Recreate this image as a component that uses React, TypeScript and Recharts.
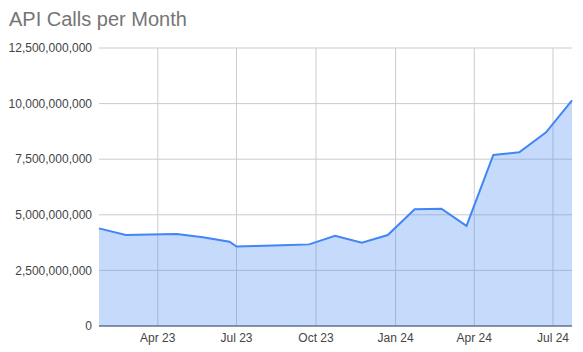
import React from 'react';
import { AreaChart, Area, XAxis, YAxis, CartesianGrid } from 'recharts';

const dates = [
  '2023-01-23', '2023-02-23', '2023-03-23', '2023-04-23', '2023-05-23', '2023-06-23',
  '2023-07-01', '2023-07-23', '2023-08-23', '2023-09-23', '2023-10-23', '2023-11-23',
  '2023-12-23', '2024-01-23', '2024-02-23', '2024-03-23', '2024-04-23', '2024-05-23',
  '2024-06-23', '2024-07-23',
];
const calls = [
  4390000000, 4090000000, 4110000000, 4140000000, 3990000000, 3790000000,
  3570000000, 3600000000, 3630000000, 3670000000, 4060000000, 3750000000,
  4090000000, 5250000000, 5270000000, 4500000000, 7690000000, 7810000000,
  8710000000, 10140000000,
];
const tickDates = ['2023-04-01', '2023-07-01', '2023-10-01', '2024-01-01', '2024-04-01', '2024-07-01'];
const tickLabels = ['Apr 23', 'Jul 23', 'Oct 23', 'Jan 24', 'Apr 24', 'Jul 24'];
const yTicks = [0, 2500000000, 5000000000, 7500000000, 10000000000, 12500000000];

const toDay = (s: string) => Date.parse(s + 'T00:00:00Z') / 86400000;

const data = dates.map((d, i) => ({ day: toDay(d), calls: calls[i] }));
const xTicks = tickDates.map(toDay);
const labelFor = (v: number) => {
  const i = xTicks.indexOf(v);
  return i >= 0 ? tickLabels[i] : '';
};

const FONT = '"Liberation Sans", Arial, sans-serif';

export default function App() {
  return (
    <div style={{ position: 'absolute', left: 0, top: 0, width: 583, height: 352, background: '#fff' }}>
      <div
        style={{
          position: 'absolute',
          left: 9,
          top: 9,
          fontFamily: FONT,
          fontSize: 20,
          lineHeight: '20px',
          color: '#757575',
          whiteSpace: 'nowrap',
        }}
      >
        API Calls per Month
      </div>
      <AreaChart
        width={583}
        height={352}
        data={data}
        margin={{ top: 48, right: 11, left: 0, bottom: 0 }}
      >
        <CartesianGrid stroke="#cccccc" strokeWidth={1} syncWithTicks={true} />
        <XAxis
          dataKey="day"
          type="number"
          domain={['dataMin', 'dataMax']}
          ticks={xTicks}
          tickFormatter={labelFor}
          tickLine={false}
          tickSize={0}
          tickMargin={7}
          height={26}
          axisLine={{ stroke: '#384b6d', strokeWidth: 1 }}
          tick={{ fill: '#444444', fontSize: 12, fontFamily: FONT }}
          interval={0}
        />
        <YAxis
          type="number"
          domain={[0, 12500000000]}
          ticks={yTicks}
          tickFormatter={(v: number) => v.toLocaleString('en-US')}
          width={99}
          tickLine={false}
          tickSize={0}
          tickMargin={7}
          axisLine={false}
          tick={{ fill: '#444444', fontSize: 12, fontFamily: FONT }}
          interval={0}
        />
        <Area
          type="linear"
          dataKey="calls"
          stroke="#4285f4"
          strokeWidth={2}
          fill="#4285f4"
          fillOpacity={0.3}
          dot={false}
          activeDot={false}
          isAnimationActive={false}
        />
      </AreaChart>
    </div>
  );
}
